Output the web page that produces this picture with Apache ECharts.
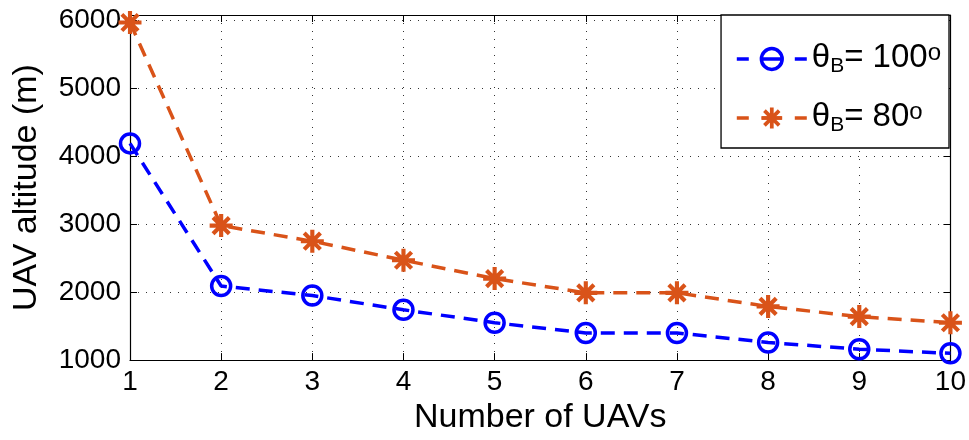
<!DOCTYPE html>
<html>
<head>
<meta charset="utf-8">
<script src="https://cdn.jsdelivr.net/npm/echarts@6/dist/echarts.min.js"></script>
<style>
  html, body { margin: 0; padding: 0; background: #fff; }
  #chart { width: 969px; height: 440px; }
</style>
</head>
<body>
<div id="chart"></div>
<script>
// Number of UAVs on the horizontal axis
const uavCounts = [1, 2, 3, 4, 5, 6, 7, 8, 9, 10];
// Beam angle (degrees) for each curve
const thetaB = [100, 80];
// Required UAV altitude (m) for each beam angle
const altitude100 = [4190, 2090, 1950, 1740, 1550, 1400, 1400, 1260, 1160, 1100];
const altitude80 = [5970, 2980, 2750, 2470, 2200, 1990, 1990, 1790, 1640, 1550];
// Axis ranges and ticks
const xRange = [1, 10];
const yRange = [1000, 6080];
const yStep = 1000;

const FONT = '"Liberation Sans", Arial, Helvetica, sans-serif';
const BLUE = '#0000FF';
const ORANGE = '#D95319';

// Eight-spoke asterisk marker built from four thin bars
function asteriskPath() {
  const L = 10, w = 1.8;
  let d = '';
  [0, 45, 90, 135].forEach(function (deg) {
    const a = deg * Math.PI / 180;
    const c = Math.cos(a), s = Math.sin(a);
    const px = -s * w, py = c * w;
    const pts = [
      [L * c + px, L * s + py],
      [-L * c + px, -L * s + py],
      [-L * c - px, -L * s - py],
      [L * c - px, L * s - py]
    ];
    d += 'M' + pts.map(function (p) { return p[0].toFixed(3) + ' ' + p[1].toFixed(3); }).join(' L') + ' Z ';
  });
  return 'path://' + d;
}

function pairs(ys) {
  return uavCounts.map(function (x, i) { return [x, ys[i]]; });
}

const seriesNames = thetaB.map(function (t) { return 'θB = ' + t + '°'; });

const chart = echarts.init(document.getElementById('chart'), null, { renderer: 'canvas' });

const gridLine = { show: true, lineStyle: { color: '#333', width: 1, type: [1, 7] } };
const axisLine = { show: true, onZero: false, lineStyle: { color: '#000', width: 1.2 } };
const tickIn = { show: true, inside: true, length: 7, lineStyle: { color: '#000', width: 1 } };

chart.setOption({
  animation: false,
  backgroundColor: '#fff',
  textStyle: { fontFamily: FONT, color: '#000' },
  grid: { left: 130, right: 18, top: 15, bottom: 76, containLabel: false },
  legend: {
    orient: 'vertical',
    right: 20,
    top: 15,
    padding: [12, 8, 12, 14],
    itemGap: 9,
    itemWidth: 70,
    itemHeight: 26,
    borderColor: '#000',
    borderWidth: 1.3,
    borderRadius: 0,
    backgroundColor: '#fff',
    data: [
      { name: seriesNames[0], itemStyle: { borderWidth: 3.5 } },
      { name: seriesNames[1], itemStyle: { borderWidth: 0 } }
    ],
    lineStyle: { width: 3.5, type: [12, 13, 20, 13, 12] },
    formatter: function (name) {
      const t = thetaB[seriesNames.indexOf(name)];
      return '{t|θ}{s|B}{t|= ' + t + '}{p|o}';
    },
    textStyle: {
      fontFamily: FONT,
      color: '#000',
      rich: {
        t: { fontSize: 33, lineHeight: 36, verticalAlign: 'top', fontFamily: FONT, color: '#000' },
        s: { fontSize: 21, lineHeight: 19, verticalAlign: 'bottom', padding: [29, 0, 0, 0], fontFamily: FONT, color: '#000' },
        p: { fontSize: 24, lineHeight: 12, verticalAlign: 'top', fontFamily: FONT, color: '#000' }
      }
    }
  },
  xAxis: [
    {
      type: 'value', position: 'bottom',
      min: xRange[0], max: xRange[1], interval: 1,
      name: 'Number of UAVs', nameLocation: 'middle', nameGap: 40,
      nameTextStyle: { fontSize: 34, fontFamily: FONT, color: '#000' },
      axisLine: axisLine, axisTick: tickIn,
      axisLabel: { fontSize: 28, fontFamily: FONT, color: '#000', margin: 8 },
      splitLine: gridLine
    },
    {
      type: 'value', position: 'top',
      min: xRange[0], max: xRange[1], interval: 1,
      axisLine: axisLine, axisTick: tickIn,
      axisLabel: { show: false }, splitLine: { show: false }
    }
  ],
  yAxis: [
    {
      type: 'value', position: 'left',
      min: yRange[0], max: yRange[1], interval: yStep,
      name: 'UAV altitude (m)', nameLocation: 'middle', nameGap: 86,
      nameTextStyle: { fontSize: 34, fontFamily: FONT, color: '#000' },
      axisLine: axisLine, axisTick: tickIn,
      axisLabel: {
        fontSize: 28, fontFamily: FONT, color: '#000', margin: 9,
        formatter: function (v) { return v % yStep === 0 ? String(v) : ''; }
      },
      splitLine: gridLine
    },
    {
      type: 'value', position: 'right',
      min: yRange[0], max: yRange[1], interval: yStep,
      axisLine: axisLine, axisTick: tickIn,
      axisLabel: { show: false }, splitLine: { show: false }
    }
  ],
  series: [
    {
      name: seriesNames[0],
      type: 'line',
      xAxisIndex: 0, yAxisIndex: 0,
      data: pairs(altitude100),
      symbol: 'circle',
      symbolSize: 19,
      showAllSymbol: true,
      lineStyle: { color: BLUE, width: 3.5, type: [14, 9] },
      itemStyle: { color: 'rgba(0,0,0,0)', borderColor: BLUE, borderWidth: 3.5 },
      z: 3
    },
    {
      name: seriesNames[1],
      type: 'line',
      xAxisIndex: 0, yAxisIndex: 0,
      data: pairs(altitude80),
      symbol: asteriskPath(),
      symbolSize: 23,
      showAllSymbol: true,
      lineStyle: { color: ORANGE, width: 3.5, type: [14, 9] },
      itemStyle: { color: ORANGE, borderColor: ORANGE, borderWidth: 0 },
      z: 2
    }
  ]
});
</script>
</body>
</html>
